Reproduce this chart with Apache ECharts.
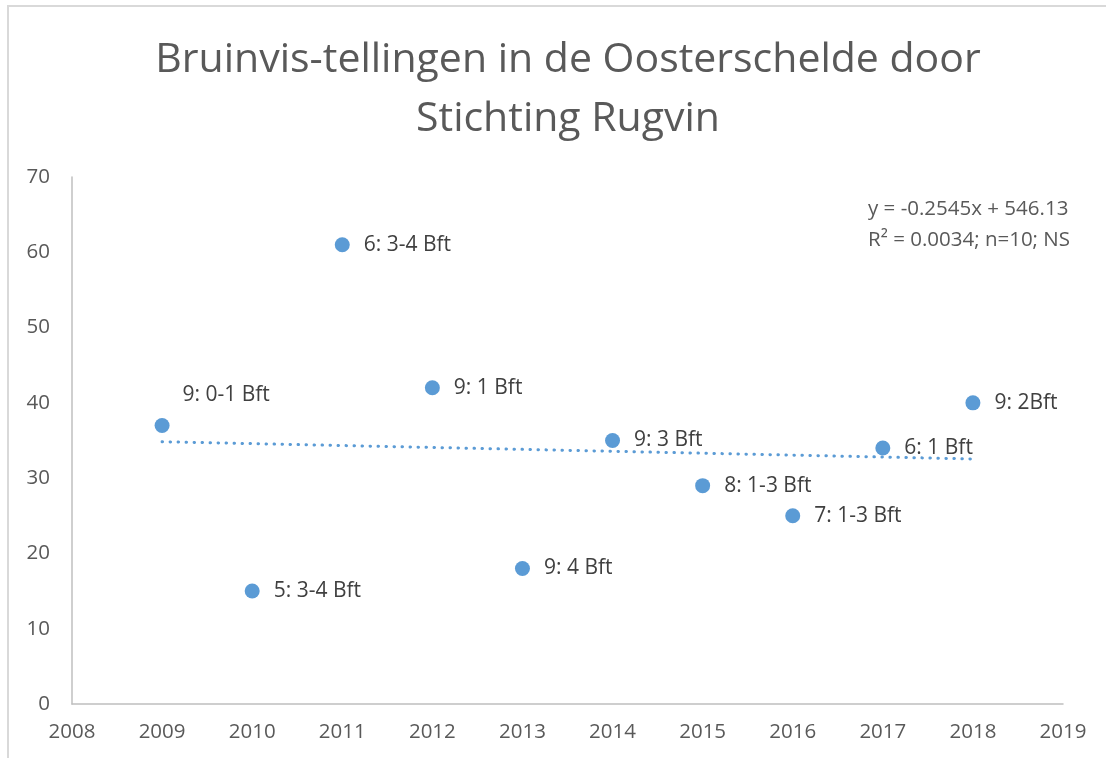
<!DOCTYPE html>
<html>
<head>
<meta charset="utf-8">
<script src="https://cdn.jsdelivr.net/npm/echarts@6/dist/echarts.min.js"></script>
<style>
  html, body { margin: 0; padding: 0; background: #fff; }
  #frame {
    position: absolute; left: 7px; top: 5px; width: 1200px; height: 900px;
    border-left: 2px solid #d9d9d9; border-top: 2px solid #d9d9d9;
  }
  #chart { position: absolute; left: 0; top: 0; width: 1106px; height: 758px; }
</style>
</head>
<body>
<div id="frame"></div>
<div id="chart"></div>
<script>
// jaren en aantallen bruinvissen
const years = [2009, 2010, 2011, 2012, 2013, 2014, 2015, 2016, 2017, 2018];
const counts = [37, 15, 61, 42, 18, 35, 29, 25, 34, 40];
const labels = ["9: 0-1 Bft", "5: 3-4 Bft", "6: 3-4 Bft", "9: 1 Bft", "9: 4 Bft",
  "9: 3 Bft", "8: 1-3 Bft", "7: 1-3 Bft", "6: 1 Bft", "9: 2Bft"];
// trendlijn uit Excel
const slope = -0.2545;
const intercept = 546.13;
const trendText = ["y = -0.2545x + 546.13", "R² = 0.0034; n=10; NS"];

const fontFam = "'Open Sans', 'Noto Sans', sans-serif";
const blue = "#5b9bd5";

const chartDom = document.getElementById("chart");
const myChart = echarts.init(chartDom);

const trendX = [years[0], years[years.length - 1]];

const option = {
  animation: false,
  title: {
    text: "Bruinvis-tellingen in de Oosterschelde door\nStichting Rugvin",
    left: 563,
    textAlign: "center",
    top: 26,
    textStyle: {
      fontFamily: fontFam,
      fontSize: 41,
      fontWeight: "normal",
      color: "#595959",
      lineHeight: 59,
    },
  },
  grid: { left: 72, right: 43, top: 177, bottom: 54 },
  xAxis: {
    type: "value",
    min: 2008,
    max: 2019,
    interval: 1,
    axisLine: { show: true, lineStyle: { color: "#bfbfbf", width: 1.5 } },
    axisTick: { show: false },
    splitLine: { show: false },
    axisLabel: {
      color: "#595959",
      fontFamily: fontFam,
      fontSize: 20.5,
      margin: 18,
      formatter: (v) => String(v),
    },
  },
  yAxis: {
    type: "value",
    min: 0,
    max: 70,
    interval: 10,
    axisLine: { show: true, lineStyle: { color: "#bfbfbf", width: 1.5 } },
    axisTick: { show: false },
    splitLine: { show: false },
    axisLabel: {
      color: "#595959",
      fontFamily: fontFam,
      fontSize: 20.5,
      margin: 22,
    },
  },
  series: [
    {
      type: "line",
      data: trendX.map((x) => [x, slope * x + intercept]),
      symbol: "none",
      lineStyle: { color: blue, width: 3, type: [0.5, 7.5], cap: "round" },
      silent: true,
      z: 1,
    },
    {
      type: "scatter",
      symbolSize: 15,
      itemStyle: { color: blue, opacity: 1 },
      data: years.map((y, i) => ({
        value: [y, counts[i]],
        label: i === 0 ? { position: "top", offset: [64, 2] } : undefined,
      })),
      label: {
        show: true,
        position: "right",
        distance: 14,
        color: "#404040",
        fontFamily: fontFam,
        fontSize: 21,
        formatter: (p) => labels[p.dataIndex],
      },
      z: 3,
    },
  ],
  graphic: [
    {
      type: "text",
      right: 36,
      top: 194,
      style: {
        text: trendText.join("\n"),
        fill: "#595959",
        font: "20.5px " + fontFam,
        lineHeight: 31,
        align: "left",
      },
    },
  ],
};

option && myChart.setOption(option);
</script>
</body>
</html>
